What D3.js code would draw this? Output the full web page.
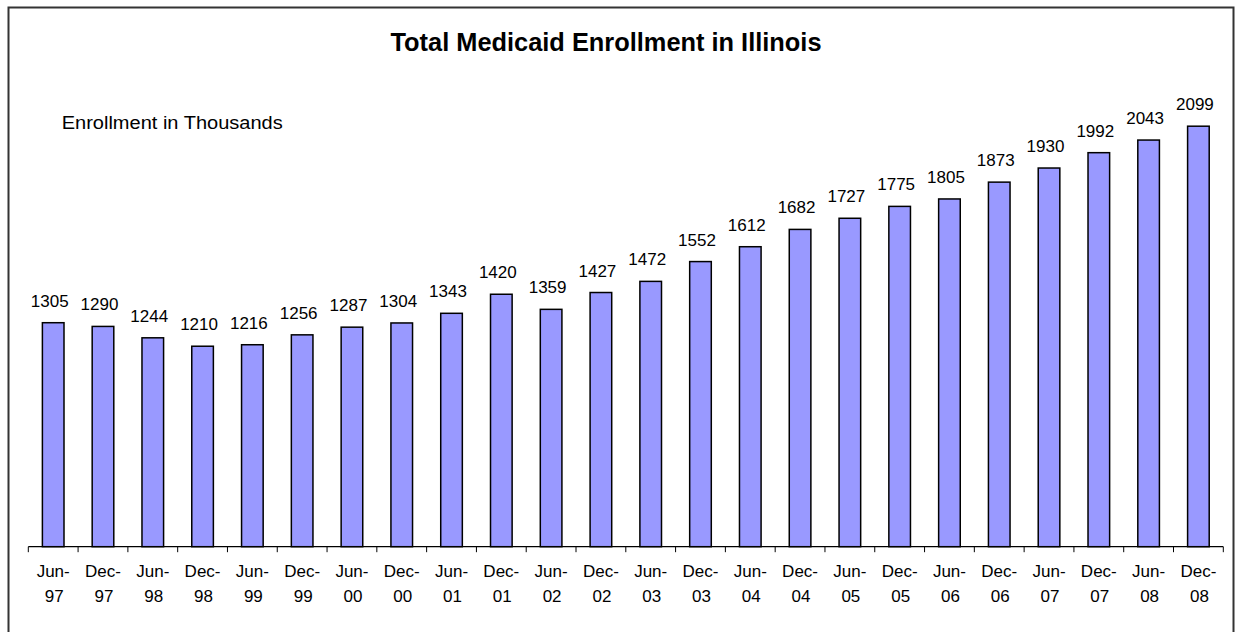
<!DOCTYPE html>
<html>
<head>
<meta charset="utf-8">
<script src="https://cdn.jsdelivr.net/npm/d3@7"></script>
<style>
  html, body { margin: 0; padding: 0; background: #fff; }
  text { font-family: "Liberation Sans", Arial, sans-serif; fill: #000; }
</style>
</head>
<body>
<svg id="chart" width="1238" height="632"></svg>
<script>
const categories = ["Jun-97","Dec-97","Jun-98","Dec-98","Jun-99","Dec-99","Jun-00","Dec-00",
  "Jun-01","Dec-01","Jun-02","Dec-02","Jun-03","Dec-03","Jun-04","Dec-04",
  "Jun-05","Dec-05","Jun-06","Dec-06","Jun-07","Dec-07","Jun-08","Dec-08"];
const enrollment = [1305,1290,1244,1210,1216,1256,1287,1304,1343,1420,1359,1427,
  1472,1552,1612,1682,1727,1775,1805,1873,1930,1992,2043,2099];
const yDomain = [400, 2200];
const titleText = "Total Medicaid Enrollment in Illinois";
const unitText = "Enrollment in Thousands";

(function () {
const svg = d3.select("#chart");

// outer frame
svg.append("rect")
  .attr("x", 8.5).attr("y", 7.5).attr("width", 1225).attr("height", 640)
  .attr("fill", "none").attr("stroke", "#333").attr("stroke-width", 2);

const plotLeft = 28.3, plotRight = 1223.3, axisY = 546.7, plotTop = 101.2;

const x = d3.scaleBand().domain(categories).range([plotLeft, plotRight])
  .paddingInner(0.566).paddingOuter(0.283);
const xTick = d3.scaleBand().domain(categories).range([plotLeft, plotRight]).padding(0);
const y = d3.scaleLinear().domain(yDomain).range([axisY, plotTop]);

// bars
svg.append("g").selectAll("rect").data(enrollment).join("rect")
  .attr("x", (d, i) => x(categories[i]))
  .attr("y", d => y(d))
  .attr("width", x.bandwidth())
  .attr("height", d => axisY - y(d))
  .attr("fill", "#9999FF")
  .attr("stroke", "#000")
  .attr("stroke-width", 1.5);

// data labels
svg.append("g").selectAll("text").data(enrollment).join("text")
  .attr("x", (d, i) => x(categories[i]) + x.bandwidth() / 2 - 3.5)
  .attr("y", d => y(d) - 16)
  .attr("text-anchor", "middle")
  .attr("font-size", "17px")
  .text(d => d);

// x axis line
svg.append("line")
  .attr("x1", plotLeft).attr("x2", plotRight).attr("y1", axisY).attr("y2", axisY)
  .attr("stroke", "#000").attr("stroke-width", 1.2);

// ticks at category boundaries
const bounds = categories.map(c => xTick(c)).concat([plotRight]);
svg.append("g").selectAll("line").data(bounds).join("line")
  .attr("x1", d => d).attr("x2", d => d)
  .attr("y1", axisY).attr("y2", axisY + 5.5)
  .attr("stroke", "#000").attr("stroke-width", 1);

// category labels (two lines)
const lab = svg.append("g").selectAll("text").data(categories).join("text")
  .attr("text-anchor", "middle")
  .attr("font-size", "17px");
lab.append("tspan")
  .attr("x", d => xTick(d) + xTick.bandwidth() / 2)
  .attr("y", 577.3)
  .text(d => d.split("-")[0] + "-");
lab.append("tspan")
  .attr("x", d => xTick(d) + xTick.bandwidth() / 2 + 1)
  .attr("y", 601.7)
  .text(d => d.split("-")[1]);

// title
svg.append("text")
  .attr("x", 606).attr("y", 51)
  .attr("text-anchor", "middle")
  .attr("font-size", "25px").attr("font-weight", "bold")
  .attr("textLength", 431).attr("lengthAdjust", "spacingAndGlyphs")
  .text(titleText);

// unit label
svg.append("text")
  .attr("x", 61.7).attr("y", 129)
  .attr("font-size", "17.5px")
  .attr("textLength", 221).attr("lengthAdjust", "spacingAndGlyphs")
  .text(unitText);
})();
</script>
</body>
</html>
